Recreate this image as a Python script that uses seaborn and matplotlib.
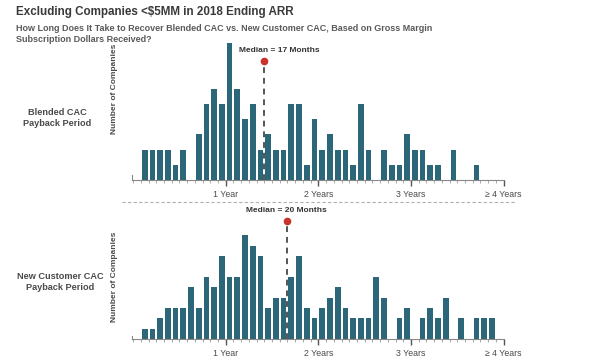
import numpy as np
import pandas as pd
import seaborn as sns
import matplotlib.pyplot as plt

# ---- data (payback month -> number of companies) ----
months = list(range(1, 47))
blended_counts = [2, 2, 2, 2, 1, 2, 0, 3, 5, 6, 5, 9, 6, 4, 5, 2, 3, 2, 2, 5,
                  5, 1, 4, 2, 3, 2, 2, 1, 5, 2, 0, 2, 1, 1, 3, 2, 2, 1, 1, 0,
                  2, 0, 0, 1, 0, 0]
new_counts = [1, 1, 2, 3, 3, 3, 5, 3, 6, 5, 8, 6, 6, 10, 9, 8, 3, 4, 4, 6,
              8, 3, 2, 3, 4, 5, 3, 2, 2, 2, 6, 4, 0, 2, 3, 0, 2, 3, 2, 4,
              0, 2, 0, 2, 2, 2]
tick_values = [12, 24, 36, 48]
tick_labels = ["1 Year", "2 Years", "3 Years", "\u2265 4 Years"]
blended_median = 17
new_median = 20
row_labels = ["Blended CAC\nPayback Period", "New Customer CAC\nPayback Period"]
title = "Excluding Companies <$5MM in 2018 Ending ARR"
subtitle1 = "How Long Does It Take to Recover Blended CAC vs. New Customer CAC, Based on Gross Margin"
subtitle2 = "Subscription Dollars Received?"

BAR = "#2c6679"
TXT = "#4a4a4a"
RED = "#c8342c"

sns.set_theme(style="white")
plt.rcParams["font.family"] = ["Liberation Sans", "DejaVu Sans"]

fig = plt.figure(figsize=(6.0, 3.59), dpi=100)

left = 0.2205
width = 0.6202
ax_top = fig.add_axes([left, 0.4986, width, 0.4234])
ax_bot = fig.add_axes([left, 0.0549, width, 0.3476])

panels = [
    (ax_top, blended_counts, blended_median, (0, 10), 7.83, (18.9, 8.5), 0.60),
    (ax_bot, new_counts, new_median, (0, 12), 11.4, (19.9, 12.35), 0.50),
]

for ax, counts, med, ylim, doty, txtpos, ylab_y in panels:
    df = pd.DataFrame({"month": np.array(months, dtype=float),
                       "count": np.array(counts, dtype=float)})
    sns.histplot(data=df, x="month", weights="count", binwidth=1,
                 binrange=(1, 47), shrink=0.74, color=BAR, alpha=1.0,
                 edgecolor="none", linewidth=0, ax=ax)
    ax.set_xlim(-0.1, 48.1)
    ax.set_ylim(*ylim)
    ax.set_yticks([])
    ax.set_xticks(tick_values)
    ax.set_xticklabels(tick_labels)
    ax.set_xticks(np.arange(0, 49), minor=True)
    ax.tick_params(axis="x", which="major", length=4, width=1.0, color="#555555",
                   labelsize=6.3, labelcolor=TXT, pad=3.2, bottom=True)
    ax.tick_params(axis="x", which="minor", length=2, width=0.6, color="#999999",
                   bottom=True)
    for s in ["top", "right"]:
        ax.spines[s].set_visible(False)
    ax.spines["bottom"].set_color("#888888")
    ax.spines["bottom"].set_linewidth(0.8)
    ax.spines["left"].set_color("#888888")
    ax.spines["left"].set_linewidth(0.8)
    ax.spines["left"].set_bounds(0, ylim[1] * 0.03)
    ax.set_xlabel("")
    ax.set_ylabel("Number of Companies", fontsize=6, fontweight="bold", color=TXT)
    ax.yaxis.set_label_coords(-0.038, ylab_y)
    # median marker
    ax.plot([med, med], [0, doty], color="#555555", lw=1.4, ls=(0, (3, 2.5)),
            zorder=3)
    ax.plot([med], [doty], marker="o", ms=4.5, color=RED, zorder=4, clip_on=False)
    ax.text(txtpos[0], txtpos[1], f"Median = {med} Months", ha="center",
            va="center", fontsize=6, fontweight="bold", color="#333333",
            clip_on=False)

# row labels
fig.text(0.095, 0.671, row_labels[0], ha="center", va="center", fontsize=6.6,
         fontweight="bold", color=TXT, linespacing=1.25)
fig.text(0.100, 0.2154, row_labels[1], ha="center", va="center", fontsize=6.6,
         fontweight="bold", color=TXT, linespacing=1.25)

# separator
fig.add_artist(plt.Line2D([0.203, 0.858], [0.438, 0.438], color="#b0b0b0",
                          lw=0.8, ls=(0, (3, 2))))

# titles
fig.text(0.027, 0.9596, title, ha="left", va="baseline", fontsize=8.35,
         fontweight="bold", color="#3a3a3a")
fig.text(0.027, 0.9123, subtitle1, ha="left", va="baseline", fontsize=6.5,
         fontweight="bold", color="#5a5a5a")
fig.text(0.027, 0.8830, subtitle2, ha="left", va="baseline", fontsize=6.5,
         fontweight="bold", color="#5a5a5a")

fig.savefig("out.png", dpi=100)
